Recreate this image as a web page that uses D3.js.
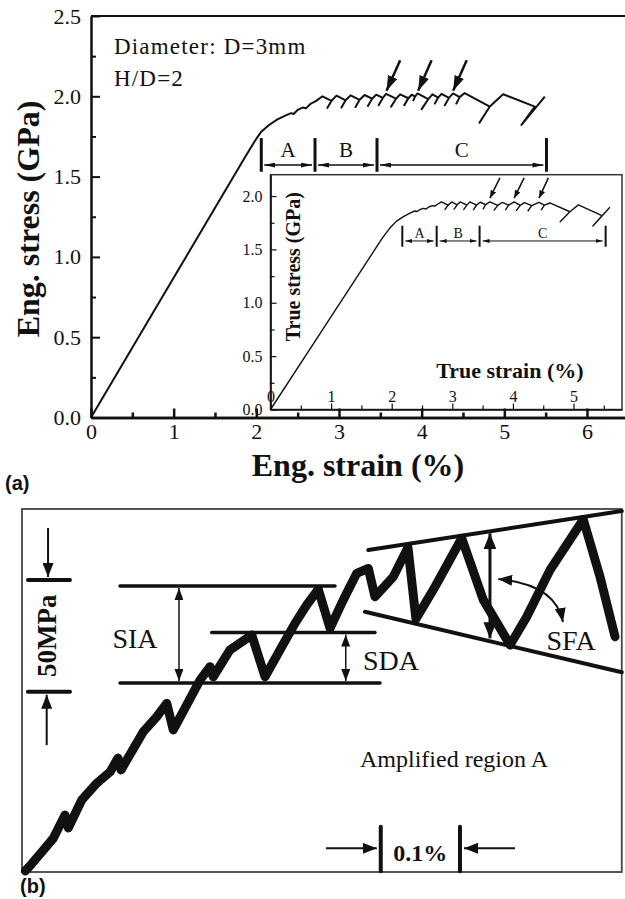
<!DOCTYPE html>
<html>
<head>
<meta charset="utf-8">
<script src="https://cdn.jsdelivr.net/npm/d3@7"></script>
<style>
  body { margin: 0; background: #fff; }
  svg { display: block; }
  text { fill: #111; }
</style>
</head>
<body>
<svg id="chart" width="625" height="899" font-family='"Liberation Serif", "Times New Roman", serif'></svg>
<script>
// ---- panel (a): engineering curve
const engStressTicks = [0, 0.5, 1, 1.5, 2, 2.5];
const engStressMinor = [0.25, 0.75, 1.25, 1.75, 2.25];
const engStrainTicks = [0, 1, 2, 3, 4, 5, 6];
const engStrainMinor = [0.5, 1.5, 2.5, 3.5, 4.5, 5.5];

// [strain %, stress GPa]; serrations go peak -> junction -> tail -> junction
const engCurve = [
  [0, 0], [1.0, 0.87], [1.85, 1.61], [1.98, 1.72], [2.06, 1.78], [2.15, 1.82], [2.25, 1.855],
  [2.35, 1.88], [2.42, 1.895], [2.45, 1.89], [2.5, 1.915], [2.56, 1.93], [2.6, 1.925],
  [2.66, 1.955], [2.72, 1.97],
  [2.80, 2.000], [2.91, 1.972], [2.86, 1.928], [2.91, 1.972],
  [2.97, 2.004], [3.08, 1.975], [3.03, 1.930], [3.08, 1.975],
  [3.14, 2.006], [3.25, 1.978], [3.20, 1.933], [3.25, 1.978],
  [3.31, 2.008], [3.40, 1.985], [3.35, 1.940], [3.40, 1.985],
  [3.45, 2.010], [3.53, 1.990], [3.48, 1.945], [3.53, 1.990],
  [3.57, 2.015], [3.69, 1.985], [3.63, 1.935], [3.69, 1.985],
  [3.74, 2.012], [3.84, 1.988], [3.79, 1.945], [3.84, 1.988],
  [3.88, 2.010], [3.92, 1.998], [3.90, 1.975], [3.92, 1.998],
  [3.95, 2.018], [4.08, 1.982], [4.00, 1.920], [4.08, 1.982],
  [4.13, 2.012], [4.20, 1.992], [4.16, 1.955], [4.20, 1.992],
  [4.24, 2.015], [4.33, 1.990], [4.28, 1.945], [4.33, 1.990],
  [4.38, 2.018], [4.46, 1.995], [4.42, 1.955], [4.46, 1.995],
  [4.52, 2.020], [4.825, 1.936], [4.70, 1.836], [4.825, 1.936],
  [4.985, 2.013], [5.369, 1.936], [5.208, 1.822], [5.49, 1.998]
];
const engRegionBounds = [2.06, 2.71, 3.46, 5.51];
const regionNames = ['A', 'B', 'C'];
const engArrowTips = [[3.575, 2.035], [3.958, 2.035], [4.381, 2.035]];
const engArrowTails = [[3.74, 2.225], [4.12, 2.225], [4.545, 2.225]];

// ---- inset: true curve
const trueStressTicks = [0, 0.5, 1, 1.5, 2];
const trueStressMinor = [0.25, 0.75, 1.25, 1.75];
const trueStrainTicks = [0, 1, 2, 3, 4, 5];
const trueStrainMinor = [0.5, 1.5, 2.5, 3.5, 4.5, 5.5];
const trueCurve = [
  [0, 0], [1.0, 0.87], [1.85, 1.61], [1.97, 1.70], [2.08, 1.765], [2.2, 1.81], [2.3, 1.84],
  [2.38, 1.86], [2.42, 1.855], [2.47, 1.875], [2.53, 1.885], [2.56, 1.878], [2.62, 1.90],
  [2.68, 1.91], [2.71, 1.905], [2.76, 1.925],
  [2.82, 1.945], [2.93, 1.915], [2.88, 1.875], [2.93, 1.915],
  [2.99, 1.945], [3.08, 1.918], [3.03, 1.878], [3.08, 1.918],
  [3.13, 1.945], [3.24, 1.915], [3.19, 1.875], [3.24, 1.915],
  [3.29, 1.945], [3.40, 1.915], [3.35, 1.873], [3.40, 1.915],
  [3.46, 1.942], [3.55, 1.920], [3.51, 1.880], [3.55, 1.920],
  [3.62, 1.945], [3.75, 1.912], [3.69, 1.868], [3.75, 1.912],
  [3.82, 1.940], [3.93, 1.915], [3.88, 1.872], [3.93, 1.915],
  [4.02, 1.945], [4.12, 1.912], [4.06, 1.865], [4.12, 1.912],
  [4.19, 1.938], [4.31, 1.910], [4.25, 1.862], [4.31, 1.910],
  [4.43, 1.940], [4.52, 1.915], [4.47, 1.872], [4.52, 1.915],
  [4.61, 1.935], [4.94, 1.853], [4.78, 1.760], [4.94, 1.853],
  [5.08, 1.917], [5.47, 1.816], [5.32, 1.720], [5.60, 1.895]
];
const trueRegionBounds = [2.175, 2.742, 3.45, 5.53];
const trueArrowTips = [[3.62, 1.98], [4.02, 1.98], [4.43, 1.98]];
const trueArrowTails = [[3.785, 2.17], [4.185, 2.17], [4.585, 2.17]];

// ---- panel (b): amplified region A  [strain offset %, stress offset MPa]
const ampCurve = [
  [0.004, 0.5], [0.0115, 3.6], [0.0254, 9.8], [0.0373, 15.1], [0.0512, 25.5], [0.0551, 19.7],
  [0.0711, 32.2], [0.0889, 39.7], [0.1048, 44.8], [0.1143, 51.0], [0.1179, 45.7],
  [0.1444, 62.8], [0.1604, 69.5], [0.1723, 75.5], [0.1801, 63.6], [0.1961, 74.8],
  [0.2119, 85.9], [0.2238, 91.9], [0.2277, 87.4], [0.2476, 99.4], [0.2735, 106.1],
  [0.2893, 87.4], [0.3071, 99.4], [0.3250, 111.3], [0.3389, 119.5], [0.3527, 126.5],
  [0.3667, 109.1], [0.3825, 121.8], [0.3985, 133.7], [0.4123, 135.9], [0.4202, 123.2],
  [0.4420, 132.2], [0.4595, 145.3], [0.4690, 113.3], [0.4917, 127.7], [0.5235, 149.4],
  [0.5492, 121.8], [0.5810, 101.6], [0.6008, 114.2], [0.6286, 135.2], [0.6682, 157.8],
  [0.6881, 132.2], [0.7060, 105.3]
];
const upperEnvelope = [[0.4123, 144.1], [0.714, 161.6]];
const lowerEnvelope = [[0.4083, 116.5], [0.714, 89.4]];
// [strain from, strain to, stress]
const bandLines = [[0.1167, 0.3726, 128.0], [0.1167, 0.4262, 84.6], [0.2258, 0.4202, 107.2]];
const siaArrow = [0.1869, 128.0, 84.6];
const sdaArrow = [0.3854, 107.2, 84.6];
const sfaArrow = [0.5571, 151.6, 104.6];
const sfaCurve = [[0.5669, 131.1], [0.635, 128.9], [0.644, 111.9]];
const stressBar = [80.7, 130.7];     // 50 MPa marker
const strainBar = [0.4271, 0.5214];  // 0.1 % marker
const strainArrowEnds = [0.3619, 0.5869];

const svg = d3.select('#chart');
const ink = '#111';
const serif = '"Liberation Serif", "Times New Roman", serif';
const sans = '"Liberation Sans", Arial, sans-serif';
const defs = svg.append('defs');

function addMarker(id, len, wid) {
  defs.append('marker')
    .attr('id', id)
    .attr('viewBox', `${-len} ${-wid / 2} ${len} ${wid}`)
    .attr('refX', 0).attr('refY', 0)
    .attr('markerWidth', len).attr('markerHeight', wid)
    .attr('markerUnits', 'userSpaceOnUse')
    .attr('orient', 'auto-start-reverse')
    .append('path')
    .attr('d', `M0,0L${-len},${-wid / 2}L${-len},${wid / 2}Z`)
    .attr('fill', ink);
}
addMarker('hBig', 15, 10);
addMarker('hAbc', 11, 5);
addMarker('hIn', 8, 6);
addMarker('hInAbc', 7, 4);
addMarker('hScale', 14, 11);
addMarker('hBand', 12, 9);
addMarker('hSfa', 16, 13);
addMarker('hCurve', 14, 11);

function styleAxis(g, size, width) {
  g.attr('font-family', serif).attr('font-size', size);
  g.selectAll('line, path').attr('stroke', ink).attr('stroke-width', width);
  g.selectAll('text').attr('fill', ink);
}

// ================= panel (a)
const x = d3.scaleLinear().domain([0, 6.46]).range([91, 625]);
const y = d3.scaleLinear().domain([0, 2.5]).range([417.5, 16]);

svg.append('line')
  .attr('x1', x(0)).attr('x2', x(6.46)).attr('y1', y(2.5)).attr('y2', y(2.5))
  .attr('stroke', ink).attr('stroke-width', 2);

svg.append('g').attr('transform', `translate(${x(0)},0)`)
  .call(d3.axisLeft(y).tickValues(engStressMinor).tickFormat('').tickSizeInner(-5).tickSizeOuter(0))
  .call(styleAxis, 22, 2);
svg.append('g').attr('transform', `translate(${x(0)},0)`)
  .call(d3.axisLeft(y).tickValues(engStressTicks).tickFormat(d3.format('.1f'))
    .tickSizeInner(-9).tickSizeOuter(0).tickPadding(10))
  .call(styleAxis, 22, 2);

// ================= inset (drawn before main x axis so the axis ticks sit on top)
const xi = d3.scaleLinear().domain([0, 5.8]).range([270.5, 622]);
const yi = d3.scaleLinear().domain([0, 2.2]).range([409.5, 174.7]);

svg.append('rect')
  .attr('x', xi(0)).attr('y', yi(2.2))
  .attr('width', xi(5.8) - xi(0)).attr('height', yi(0) - yi(2.2))
  .attr('fill', '#fff').attr('stroke', '#333').attr('stroke-width', 1.5);

svg.append('g').attr('transform', `translate(${xi(0)},0)`)
  .call(d3.axisLeft(yi).tickValues(trueStressMinor).tickFormat('').tickSizeInner(-4).tickSizeOuter(0))
  .call(styleAxis, 16, 1.2);
svg.append('g').attr('transform', `translate(${xi(0)},0)`)
  .call(d3.axisLeft(yi).tickValues(trueStressTicks).tickFormat(d3.format('.1f'))
    .tickSizeInner(-6).tickSizeOuter(0).tickPadding(8))
  .call(styleAxis, 16, 1.2);
svg.append('g').attr('transform', `translate(0,${yi(0)})`)
  .call(d3.axisBottom(xi).tickValues(trueStrainMinor).tickFormat('').tickSizeInner(-4).tickSizeOuter(0))
  .call(styleAxis, 16, 1.2);
svg.append('g').attr('transform', `translate(0,${yi(0)})`)
  .call(d3.axisBottom(xi).tickValues(trueStrainTicks).tickFormat(d3.format('d'))
    .tickSizeInner(-6).tickSizeOuter(0).tickPadding(-19))
  .call(styleAxis, 16, 1.2);

svg.append('path')
  .datum(trueCurve)
  .attr('fill', 'none').attr('stroke', ink).attr('stroke-width', 1.4)
  .attr('stroke-linejoin', 'round')
  .attr('d', d3.line().x(d => xi(d[0])).y(d => yi(d[1])));

// inset region markers
const inAbc = svg.append('g');
trueRegionBounds.forEach(b => {
  inAbc.append('line').attr('x1', xi(b)).attr('x2', xi(b)).attr('y1', yi(1.722)).attr('y2', yi(1.525))
    .attr('stroke', ink).attr('stroke-width', 2);
});
regionNames.forEach((n, i) => {
  const a = trueRegionBounds[i], b = trueRegionBounds[i + 1];
  inAbc.append('line')
    .attr('x1', xi(a) + 3).attr('x2', xi(b) - 3).attr('y1', yi(1.579)).attr('y2', yi(1.579))
    .attr('stroke', ink).attr('stroke-width', 1)
    .attr('marker-start', 'url(#hInAbc)').attr('marker-end', 'url(#hInAbc)');
  inAbc.append('text').attr('x', xi((a + b) / 2)).attr('y', yi(1.607))
    .attr('text-anchor', 'middle').attr('font-size', 14).text(n);
});
trueArrowTips.forEach((t, i) => {
  svg.append('line')
    .attr('x1', xi(trueArrowTails[i][0])).attr('y1', yi(trueArrowTails[i][1]))
    .attr('x2', xi(t[0])).attr('y2', yi(t[1]))
    .attr('stroke', ink).attr('stroke-width', 1.5).attr('marker-end', 'url(#hIn)');
});

svg.append('text')
  .attr('transform', `translate(${xi(0.487)},${yi(1.338)}) rotate(-90)`)
  .attr('text-anchor', 'middle').attr('font-size', 20).attr('font-weight', 'bold')
  .text('True stress (GPa)');
svg.append('text')
  .attr('x', xi(3.95)).attr('y', yi(0.295))
  .attr('text-anchor', 'middle').attr('font-size', 22).attr('font-weight', 'bold')
  .text('True strain (%)');

// main x axis
svg.append('g').attr('transform', `translate(0,${y(0)})`)
  .call(d3.axisBottom(x).tickValues(engStrainMinor).tickFormat('').tickSizeInner(-5).tickSizeOuter(0))
  .call(styleAxis, 22, 2.5);
svg.append('g').attr('transform', `translate(0,${y(0)})`)
  .call(d3.axisBottom(x).tickValues(engStrainTicks).tickFormat(d3.format('d'))
    .tickSizeInner(-9).tickSizeOuter(0).tickPadding(6))
  .call(styleAxis, 22, 2.5);

// main curve
svg.append('path')
  .datum(engCurve)
  .attr('fill', 'none').attr('stroke', ink).attr('stroke-width', 2)
  .attr('stroke-linejoin', 'round')
  .attr('d', d3.line().x(d => x(d[0])).y(d => y(d[1])));

// main region markers
const abc = svg.append('g');
engRegionBounds.forEach(b => {
  abc.append('line').attr('x1', x(b)).attr('x2', x(b)).attr('y1', y(1.740)).attr('y2', y(1.530))
    .attr('stroke', ink).attr('stroke-width', 3);
});
regionNames.forEach((n, i) => {
  const a = engRegionBounds[i], b = engRegionBounds[i + 1];
  abc.append('line')
    .attr('x1', x(a) + 3).attr('x2', x(b) - 3).attr('y1', y(1.572)).attr('y2', y(1.572))
    .attr('stroke', ink).attr('stroke-width', 1.5)
    .attr('marker-start', 'url(#hAbc)').attr('marker-end', 'url(#hAbc)');
  abc.append('text').attr('x', x((a + b) / 2)).attr('y', y(1.622))
    .attr('text-anchor', 'middle').attr('font-size', 21).text(n);
});
engArrowTips.forEach((t, i) => {
  svg.append('line')
    .attr('x1', x(engArrowTails[i][0])).attr('y1', y(engArrowTails[i][1]))
    .attr('x2', x(t[0])).attr('y2', y(t[1]))
    .attr('stroke', ink).attr('stroke-width', 2.5).attr('marker-end', 'url(#hBig)');
});

svg.append('text').attr('x', x(0.278)).attr('y', y(2.263)).attr('font-size', 23)
  .attr('letter-spacing', 1.2).text('Diameter: D=3mm');
svg.append('text').attr('x', x(0.278)).attr('y', y(2.064)).attr('font-size', 23)
  .attr('letter-spacing', 1.2).text('H/D=2');

svg.append('text')
  .attr('transform', `translate(39,219) rotate(-90)`)
  .attr('text-anchor', 'middle').attr('font-size', 32).attr('font-weight', 'bold')
  .text('Eng. stress (GPa)');
svg.append('text')
  .attr('x', 358).attr('y', 476)
  .attr('text-anchor', 'middle').attr('font-size', 32).attr('font-weight', 'bold')
  .text('Eng. strain (%)');
svg.append('text').attr('x', 5).attr('y', 490)
  .attr('font-family', sans).attr('font-size', 20).attr('font-weight', 'bold').text('(a)');

// ================= panel (b)
const xb = d3.scaleLinear().domain([0, 0.1]).range([22, 106]);
const yb = d3.scaleLinear().domain([0, 50]).range([872, 760.3]);

svg.append('rect')
  .attr('x', xb(0)).attr('y', yb(162.5))
  .attr('width', xb(0.714) - xb(0)).attr('height', yb(0) - yb(162.5))
  .attr('fill', 'none').attr('stroke', '#444').attr('stroke-width', 1.8);

const gb = svg.append('g');

bandLines.forEach(l => {
  gb.append('line').attr('x1', xb(l[0])).attr('x2', xb(l[1])).attr('y1', yb(l[2])).attr('y2', yb(l[2]))
    .attr('stroke', ink).attr('stroke-width', 3.5).attr('stroke-linecap', 'round');
});
[upperEnvelope, lowerEnvelope].forEach(env => {
  gb.append('line')
    .attr('x1', xb(env[0][0])).attr('y1', yb(env[0][1]))
    .attr('x2', xb(env[1][0])).attr('y2', yb(env[1][1]))
    .attr('stroke', ink).attr('stroke-width', 4).attr('stroke-linecap', 'round');
});

gb.append('path')
  .datum(ampCurve)
  .attr('fill', 'none').attr('stroke', ink).attr('stroke-width', 9)
  .attr('stroke-linejoin', 'round').attr('stroke-linecap', 'round')
  .attr('d', d3.line().x(d => xb(d[0])).y(d => yb(d[1])));

[siaArrow, sdaArrow].forEach(a => {
  gb.append('line').attr('x1', xb(a[0])).attr('x2', xb(a[0]))
    .attr('y1', yb(a[1]) + 2).attr('y2', yb(a[2]) - 2)
    .attr('stroke', ink).attr('stroke-width', 1.5)
    .attr('marker-start', 'url(#hBand)').attr('marker-end', 'url(#hBand)');
});
gb.append('line').attr('x1', xb(sfaArrow[0])).attr('x2', xb(sfaArrow[0]))
  .attr('y1', yb(sfaArrow[1])).attr('y2', yb(sfaArrow[2]))
  .attr('stroke', ink).attr('stroke-width', 3)
  .attr('marker-start', 'url(#hSfa)').attr('marker-end', 'url(#hSfa)');
const cp = d3.path();
cp.moveTo(xb(sfaCurve[0][0]), yb(sfaCurve[0][1]));
cp.quadraticCurveTo(xb(sfaCurve[1][0]), yb(sfaCurve[1][1]), xb(sfaCurve[2][0]), yb(sfaCurve[2][1]));
gb.append('path').attr('d', cp.toString())
  .attr('fill', 'none').attr('stroke', ink).attr('stroke-width', 2)
  .attr('marker-start', 'url(#hCurve)').attr('marker-end', 'url(#hCurve)');

gb.append('text').attr('x', xb(0.1345)).attr('y', yb(104.7)).attr('dy', '0.35em')
  .attr('text-anchor', 'middle').attr('font-size', 28).text('SIA');
gb.append('text').attr('x', xb(0.4393)).attr('y', yb(94.9)).attr('dy', '0.35em')
  .attr('text-anchor', 'middle').attr('font-size', 28).text('SDA');
gb.append('text').attr('x', xb(0.6536)).attr('y', yb(103.8)).attr('dy', '0.35em')
  .attr('text-anchor', 'middle').attr('font-size', 28).text('SFA');

// 50 MPa scale
stressBar.forEach(s => {
  gb.append('line').attr('x1', xb(0.0071)).attr('x2', xb(0.0571)).attr('y1', yb(s)).attr('y2', yb(s))
    .attr('stroke', ink).attr('stroke-width', 4).attr('stroke-linecap', 'round');
});
gb.append('line').attr('x1', xb(0.031)).attr('x2', xb(0.031))
  .attr('y1', yb(154)).attr('y2', yb(stressBar[1]) - 3)
  .attr('stroke', ink).attr('stroke-width', 2).attr('marker-end', 'url(#hScale)');
gb.append('line').attr('x1', xb(0.0294)).attr('x2', xb(0.0294))
  .attr('y1', yb(56.8)).attr('y2', yb(stressBar[0]) + 3)
  .attr('stroke', ink).attr('stroke-width', 2).attr('marker-end', 'url(#hScale)');
gb.append('text')
  .attr('transform', `translate(${xb(0.0405)},${yb((stressBar[0] + stressBar[1]) / 2)}) rotate(-90)`)
  .attr('text-anchor', 'middle').attr('font-size', 27).attr('font-weight', 'bold').text('50MPa');

// 0.1 % scale
strainBar.forEach(s => {
  gb.append('line').attr('x1', xb(s)).attr('x2', xb(s)).attr('y1', yb(0.3)).attr('y2', yb(20.3))
    .attr('stroke', ink).attr('stroke-width', 4).attr('stroke-linecap', 'round');
});
gb.append('line').attr('x1', xb(strainArrowEnds[0])).attr('x2', xb(strainBar[0]) - 4)
  .attr('y1', yb(10.6)).attr('y2', yb(10.6))
  .attr('stroke', ink).attr('stroke-width', 2).attr('marker-end', 'url(#hScale)');
gb.append('line').attr('x1', xb(strainArrowEnds[1])).attr('x2', xb(strainBar[1]) + 4)
  .attr('y1', yb(10.6)).attr('y2', yb(10.6))
  .attr('stroke', ink).attr('stroke-width', 2).attr('marker-end', 'url(#hScale)');
gb.append('text').attr('x', xb((strainBar[0] + strainBar[1]) / 2)).attr('y', yb(8.5)).attr('dy', '0.35em')
  .attr('text-anchor', 'middle').attr('font-size', 24).attr('font-weight', 'bold').text('0.1%');

gb.append('text').attr('x', xb(0.4024)).attr('y', yb(47.0))
  .attr('font-size', 24).text('Amplified region A');

svg.append('text').attr('x', 20).attr('y', 893)
  .attr('font-family', sans).attr('font-size', 20).attr('font-weight', 'bold').text('(b)');
</script>
</body>
</html>
